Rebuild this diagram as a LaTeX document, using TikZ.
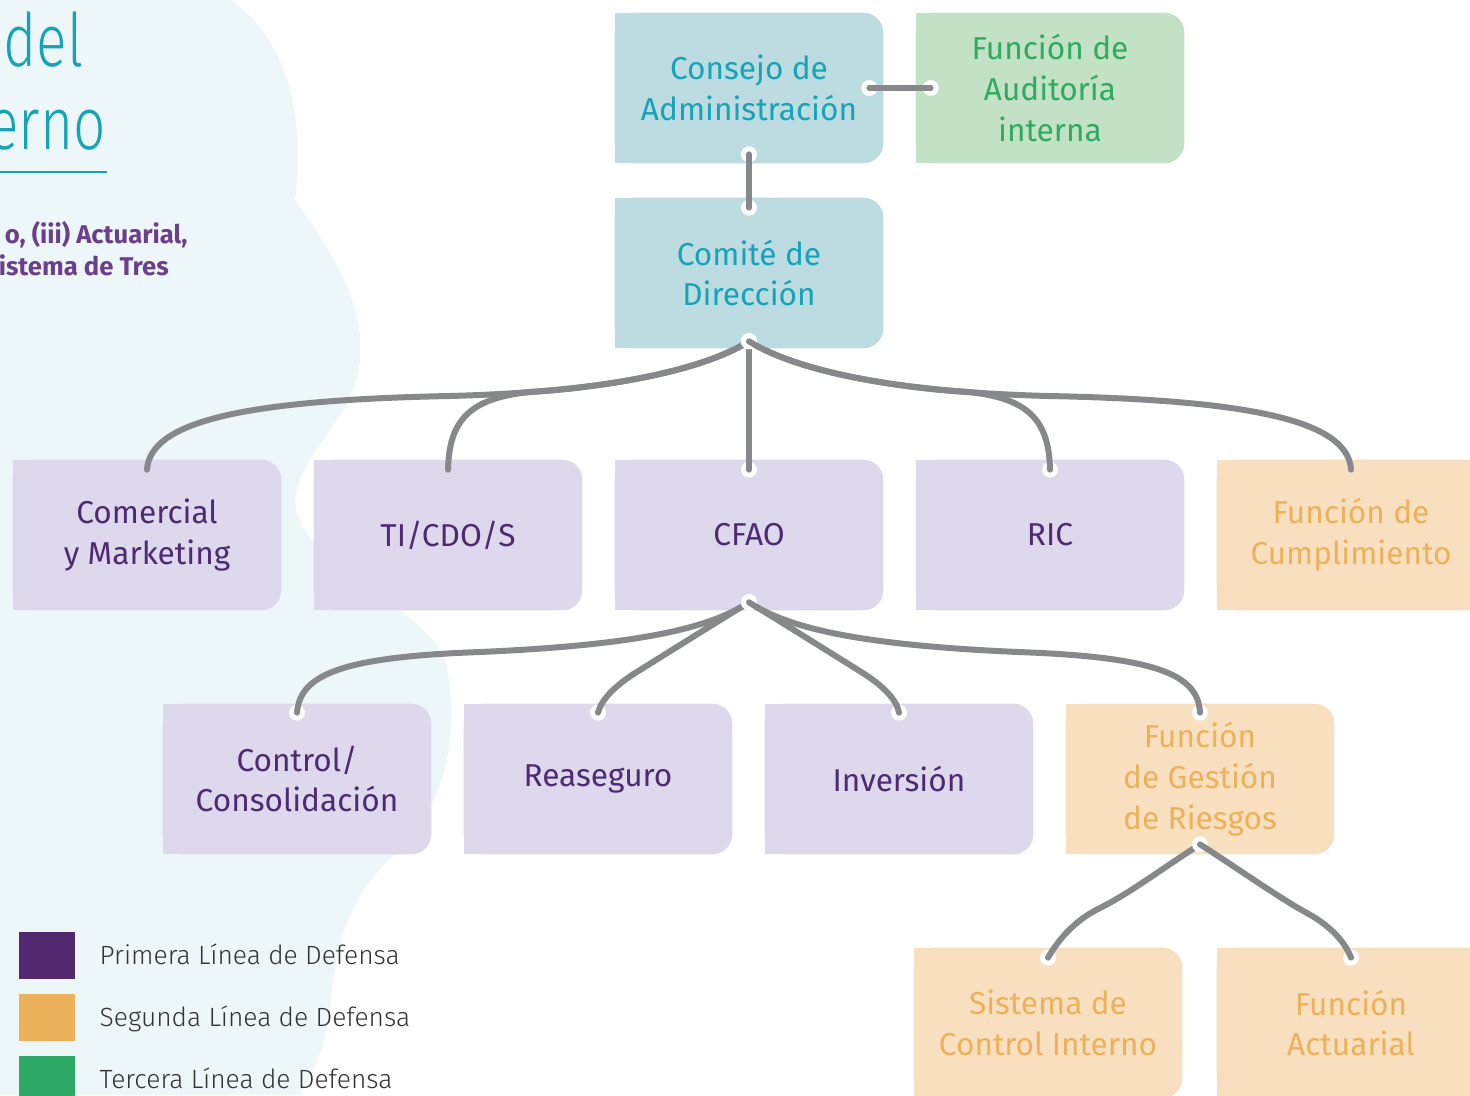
\documentclass[tikz,border=0pt]{standalone}
\usepackage{fontspec}
\setmainfont{Fira Sans}
\newfontfamily\lightfont{Fira Sans Light}
\newfontfamily\titlefont{Fira Sans Light}[FakeStretch=0.77]
\usepackage{xcolor}
\usetikzlibrary{decorations.markings, calc, positioning}

\pgfdeclarelayer{blob}
\pgfdeclarelayer{fills}
\pgfsetlayers{blob,fills,main}

\definecolor{blueFill}{HTML}{BCDCE2}
\definecolor{blueText}{HTML}{17A3B7}
\definecolor{greenFill}{HTML}{C2E1C5}
\definecolor{greenText}{HTML}{2FAB60}
\definecolor{purpleFill}{HTML}{DDD8EC}
\definecolor{purpleText}{HTML}{4E2A72}
\definecolor{orangeFill}{HTML}{F8DFBF}
\definecolor{orangeText}{HTML}{EBB25A}
\definecolor{edgeGray}{HTML}{87888C}
\definecolor{firstLine}{HTML}{52286F}
\definecolor{secondLine}{HTML}{EBB15B}
\definecolor{thirdLine}{HTML}{2DAA66}
\definecolor{legendText}{HTML}{333333}
\definecolor{leadText}{HTML}{6B3F8B}
\definecolor{blobCyan}{HTML}{EDF7F9}

\begin{document}
\begin{tikzpicture}[x=0.02cm, y=-0.02cm]
            \tikzstyle{Box} = [rectangle, inner sep=0cm, minimum width=5.36cm, minimum height=3cm, align=center, font=\fontsize{18}{23.2}\selectfont]
            \tikzstyle{Board Box} = [Box, text=blueText]
            \tikzstyle{First Box} = [Box, text=purpleText]
            \tikzstyle{Second Box} = [Box, text=orangeText]
            \tikzstyle{Third Box} = [Box, text=greenText]
            \tikzstyle{Key} = [rectangle, inner sep=0cm, minimum width=1.12cm, minimum height=0.94cm]
            \tikzstyle{Legend} = [inner sep=0cm, text=legendText, text height=13pt, text depth=2pt, font=\lightfont\fontsize{15}{18}\selectfont]
            \tikzstyle{Title} = [inner sep=0cm, text=blueText, font=\titlefont\fontsize{42}{50}\selectfont]
            \tikzstyle{Lead} = [inner sep=0cm, text=leadText, font=\bfseries\fontsize{14.6}{17}\selectfont]
            \tikzstyle{Edge} = [line width=0.12cm, color=edgeGray, line cap=round, preaction={decorate,decoration={
                    markings,
                    mark=at position 0 with {\fill[white] (0,0) circle (0.16cm);},
                    mark=at position 1 with {\fill[white] (0,0) circle (0.16cm);}
            }}
            ]
            \clip (0,0) rectangle (1470,1095);

            % background
            \begin{pgfonlayer}{blob}
            \fill[blobCyan] (0,0) -- (230,0) .. controls (290,40) and (305,120) .. (295,200)
                .. controls (330,250) and (365,300) .. (360,360) .. controls (355,420) and (300,450) .. (295,500)
                .. controls (300,570) and (420,600) .. (445,660) .. controls (460,720) and (450,800) .. (400,850)
                .. controls (340,900) and (335,960) .. (330,1010) .. controls (325,1050) and (310,1080) .. (300,1095)
                -- (0,1095) -- cycle;
            \end{pgfonlayer}

            \node[Title, anchor=base west] (title-a) at (3,67) {del};
            \node[Title, anchor=base east] (title-b) at (106,150) {erno};
            \draw[blueText, line width=0.04cm] (0,172) -- (107,172);
            \node[Lead, anchor=base east] (lead-a) at (188,243) {o, (iii) Actuarial,};
            \node[Lead, anchor=base east] (lead-b) at (169,275) {istema de Tres};

            \node[Board Box] (consejo) at (749,88) {Consejo de\\Administración};
            \node[Third Box] (auditoria) at (1050,88) {Función de\\Auditoría\\interna};
            \node[Board Box] (comite) at (749,273) {Comité de\\Dirección};
            \node[First Box] (comercial) at (147,535) {Comercial\\y Marketing};
            \node[First Box] (ti) at (448,535) {TI/CDO/S};
            \node[First Box] (cfao) at (749,535) {CFAO};
            \node[First Box] (ric) at (1050,535) {RIC};
            \node[Second Box] (cumplimiento) at (1351,535) {Función de\\Cumplimiento};
            \node[First Box] (control) at (297,779) {Control/\\Consolidación};
            \node[First Box] (reaseguro) at (598,779) {Reaseguro};
            \node[First Box] (inversion) at (899,779) {Inversión};
            \node[Second Box] (riesgos) at (1200,779) {Función\\de Gestión\\de Riesgos};
            \node[Second Box] (sistema) at (1048,1023) {Sistema de\\Control Interno};
            \node[Second Box] (actuarial) at (1351,1023) {Función\\Actuarial};

            \begin{pgfonlayer}{fills}
            \foreach \name/\boxcol in {consejo/blueFill, comite/blueFill, auditoria/greenFill,
                    comercial/purpleFill, ti/purpleFill, cfao/purpleFill, ric/purpleFill, cumplimiento/orangeFill,
                    control/purpleFill, reaseguro/purpleFill, inversion/purpleFill, riesgos/orangeFill,
                    sistema/orangeFill, actuarial/orangeFill} {
                \fill[\boxcol, rounded corners=0.4cm] (\name.north west) rectangle (\name.south east);
                \fill[\boxcol] (\name.north west) rectangle (\name.south);
            }
            \end{pgfonlayer}

            \coordinate (comite-out) at ($(comite.south)+(0,-7)$);
            \coordinate (cfao-out) at ($(cfao.south)+(0,-8)$);
            \coordinate (riesgos-out) at ($(riesgos.south)+(0,-10)$);

            \draw[Edge] ($(consejo.east)+(-14,0)$) -- ($(auditoria.west)+(15,0)$);
            \draw[Edge] ($(consejo.south)+(0,-9)$) -- ($(comite.north)+(0,10)$);

            \draw[Edge] (comite-out) .. controls (700,372) and (600,392) .. (450,396)
                .. controls (250,400) and (150,420) .. ($(comercial.north)+(0,10)$);
            \draw[Edge] (comite-out) .. controls (700,372) and (600,388) .. (530,392)
                .. controls (470,398) and (449,420) .. ($(ti.north)+(0,10)$);
            \draw[Edge] (comite-out) -- ($(cfao.north)+(0,10)$);
            \draw[Edge] (comite-out) .. controls (798,372) and (898,388) .. (968,392)
                .. controls (1028,398) and (1049,420) .. ($(ric.north)+(0,10)$);
            \draw[Edge] (comite-out) .. controls (798,372) and (898,392) .. (1048,396)
                .. controls (1248,400) and (1348,420) .. ($(cumplimiento.north)+(0,10)$);

            \draw[Edge] (cfao-out) .. controls (710,628) and (640,645) .. (480,652)
                .. controls (340,657) and (300,675) .. ($(control.north)+(0,9)$);
            \draw[Edge] (cfao-out) .. controls (720,620) and (680,645) .. (640,670)
                .. controls (615,685) and (601,700) .. ($(reaseguro.north)+(0,9)$);
            \draw[Edge] (cfao-out) .. controls (778,620) and (818,645) .. (858,670)
                .. controls (883,685) and (897,700) .. ($(inversion.north)+(0,9)$);
            \draw[Edge] (cfao-out) .. controls (788,628) and (858,645) .. (1018,652)
                .. controls (1158,657) and (1198,675) .. ($(riesgos.north)+(0,9)$);

            \draw[Edge] (riesgos-out) .. controls (1160,870) and (1130,893) .. (1100,908)
                .. controls (1075,920) and (1058,940) .. ($(sistema.north)+(0,10)$);
            \draw[Edge] (riesgos-out) .. controls (1240,870) and (1275,895) .. (1305,912)
                .. controls (1330,925) and (1345,942) .. ($(actuarial.north)+(0,10)$);

            % legend
            \node[Key, fill=firstLine] (key-a) at (47,955) {};
            \node[Key, fill=secondLine] (key-b) at (47,1017) {};
            \node[Key, fill=thirdLine] (key-c) at (47,1079) {};
            \node[Legend, right=0.48cm of key-a] (legend-a) {Primera Línea de Defensa};
            \node[Legend, right=0.48cm of key-b] (legend-b) {Segunda Línea de Defensa};
            \node[Legend, right=0.48cm of key-c] (legend-c) {Tercera Línea de Defensa};
        \end{tikzpicture}
\end{document}
